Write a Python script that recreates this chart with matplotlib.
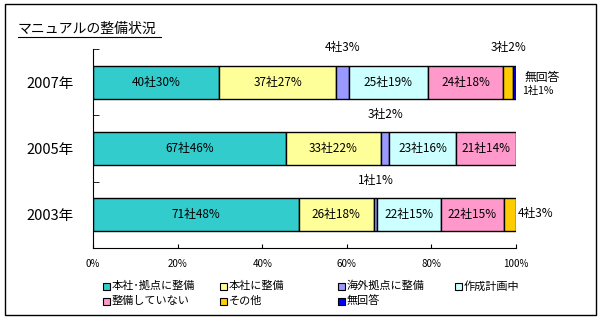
import matplotlib.pyplot as plt
from matplotlib.patches import Rectangle
from matplotlib.lines import Line2D
import numpy as np

plt.rcParams['font.family'] = ['Noto Sans CJK JP', 'DejaVu Sans']

# データ（社数）
years = ["2007年", "2005年", "2003年"]
categories = ["本社･拠点に整備", "本社に整備", "海外拠点に整備", "作成計画中",
              "整備していない", "その他", "無回答"]
counts = {
    "2007年": [40, 37, 4, 25, 24, 3, 1],
    "2005年": [67, 33, 3, 23, 21, 0, 0],
    "2003年": [71, 26, 1, 22, 22, 4, 0],
}
shown_pct = {
    "2007年": [30, 27, 3, 19, 18, 2, 1],
    "2005年": [46, 22, 2, 16, 14, 0, 0],
    "2003年": [48, 18, 1, 15, 15, 3, 0],
}
colors = ["#33CCCC", "#FFFF99", "#9999FF", "#CCFFFF", "#FF99CC", "#FFCC00", "#0000FF"]

W, H = 605, 322
fig = plt.figure(figsize=(W / 100, H / 100), dpi=100)
ax = fig.add_axes([93 / W, 1 - 248 / H, (516 - 93) / W, (248 - 49) / H])

ypos = np.arange(len(years))[::-1]  # 2007 at top
for yi, yr in zip(ypos, years):
    vals = np.array(counts[yr], dtype=float)
    frac = vals / vals.sum() * 100
    left = 0
    for k, (f, c) in enumerate(zip(frac, colors)):
        if f > 0:
            ax.barh(yi, f, left=left, height=0.5, color=c, edgecolor="black", linewidth=1)
            label = f"{counts[yr][k]}社{shown_pct[yr][k]}%"
            if f > 10:
                ax.text(left + f / 2, yi, label, ha="center", va="center", fontsize=8.5)
        left += f

def seg_center(yr, k):
    vals = np.array(counts[yr], dtype=float)
    frac = vals / vals.sum() * 100
    return frac[:k].sum() + frac[k] / 2

# 外側のラベル
ax.text(seg_center("2007年", 2), 2.42, "4社3%", ha="center", va="bottom", fontsize=8.5)
ax.text(seg_center("2007年", 5), 2.42, "3社2%", ha="center", va="bottom", fontsize=8.5)
ax.text(102, 2.07, "無回答", ha="left", va="center", fontsize=8.5)
ax.text(101.5, 1.87, "1社1%", ha="left", va="center", fontsize=7.5)
ax.text(seg_center("2005年", 2), 1.42, "3社2%", ha="center", va="bottom", fontsize=8.5)
ax.text(seg_center("2003年", 2), 0.42, "1社1%", ha="center", va="bottom", fontsize=8.5)
ax.text(100.5, 0.02, "4社3%", ha="left", va="center", fontsize=8.5)

ax.set_xlim(0, 100)
ax.set_ylim(-0.5, 2.5)
ax.set_xticks([0, 20, 40, 60, 80, 100])
ax.set_xticklabels(["0%", "20%", "40%", "60%", "80%", "100%"], fontsize=7)
ax.set_yticks(ypos)
ax.set_yticklabels(years, fontsize=10.5)
ax.set_yticks([-0.5, 0.5, 1.5, 2.5], minor=True)
ax.tick_params(axis="y", which="major", length=0, pad=14)
ax.tick_params(axis="y", which="minor", direction="in", length=4)
ax.tick_params(axis="x", direction="in", length=3, pad=8)
for s in ["top", "right"]:
    ax.spines[s].set_visible(False)

# 凡例（固定幅の列）
col_x = [103, 220, 338, 455]
row_y = [286, 301]
for i, (cat, c) in enumerate(zip(categories, colors)):
    cx = col_x[i % 4]
    ry = row_y[i // 4]
    fig.add_artist(Rectangle((cx / W, 1 - (ry + 3.5) / H), 7 / W, 7 / H,
                             transform=fig.transFigure, facecolor=c,
                             edgecolor="black", linewidth=0.8))
    fig.text((cx + 9) / W, 1 - ry / H, cat, ha="left", va="center", fontsize=8)

# タイトル（下線付き）
fig.text(18 / W, 1 - 29 / H, "マニュアルの整備状況", ha="left", va="center", fontsize=10)
fig.add_artist(Line2D([18 / W, 161 / W], [1 - 37 / H, 1 - 37 / H], color="black", linewidth=0.8))

# 外枠
fig.add_artist(Rectangle((5 / W, 1 - 315 / H), (596 - 5) / W, (315 - 4) / H,
                         transform=fig.transFigure, fill=False, edgecolor="black", linewidth=1))

fig.savefig("out.png", dpi=100)
